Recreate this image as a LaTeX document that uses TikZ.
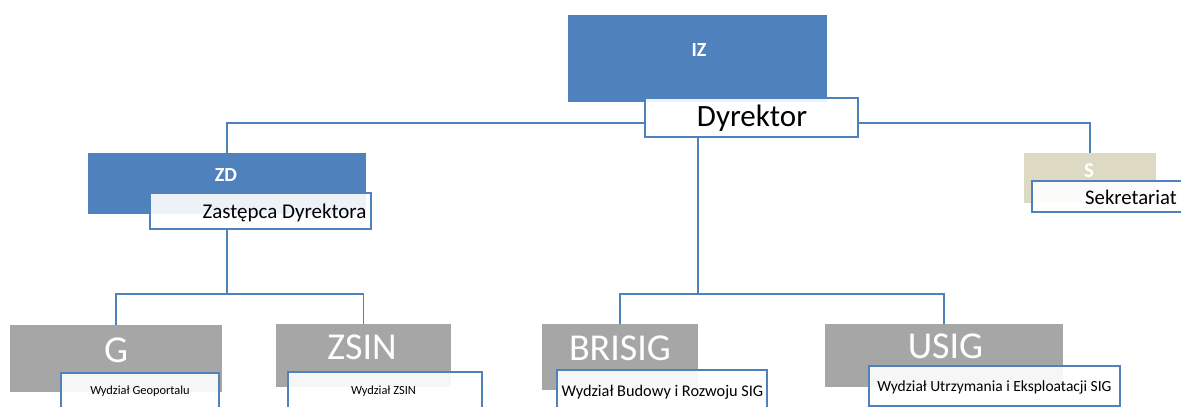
\documentclass[tikz,border=0pt]{standalone}
\usepackage{fontspec}
\setmainfont{Carlito}
\usetikzlibrary{backgrounds}
\definecolor{orgblue}{HTML}{4F81BD}
\definecolor{orggray}{HTML}{A6A6A6}
\definecolor{orgbeige}{HTML}{DDD9C3}

\begin{document}
\begin{tikzpicture}[x=1pt,y=-1pt,
        unit/.style={rectangle,inner sep=0pt,draw=none},
        bluebox/.style={unit,fill=orgblue},
        graybox/.style={unit,fill=orggray},
        beigebox/.style={unit,fill=orgbeige},
        namebox/.style={rectangle,inner sep=0pt,draw=orgblue,line width=1.3pt,
            fill=white,fill opacity=0.9},
        tag/.style={anchor=base,inner sep=0pt,text=white,
            font=\bfseries\fontsize{20}{24}\selectfont},
        bigtag/.style={anchor=base,inner sep=0pt,text=white,
            font=\fontsize{38}{44}\selectfont},
        txt/.style={anchor=base,inner sep=0pt,text=black},
        conn/.style={draw=orgblue,line width=1.5pt}]

\useasboundingbox (0,0) rectangle (1181,407);
\clip (0,0) rectangle (1181,407);

% top
\node[bluebox,minimum width=259pt,minimum height=87pt] (iz) at (697.5,58.5) {};
\node[tag] (izt) at (699,56) {IZ};
\node[namebox,minimum width=213pt,minimum height=39pt] (dyr) at (751.5,117.5) {};
\node[txt,font=\fontsize{31}{36}\selectfont] (dyrt) at (752,126) {Dyrektor};

% deputy and secretariat
\node[bluebox,minimum width=278pt,minimum height=61pt] (zd) at (227,183.5) {};
\node[tag] (zdt) at (226,181) {ZD};
\node[namebox,minimum width=221pt,minimum height=36pt] (zast) at (260.5,211) {};
\node[txt,font=\fontsize{21}{25}\selectfont] (zastt) at (284.5,218.3) {Zastępca Dyrektora};

\node[beigebox,minimum width=132pt,minimum height=50pt] (s) at (1090,178) {};
\node[tag,font=\bfseries\fontsize{21}{25}\selectfont] (st) at (1089,177) {S};
\node[namebox,minimum width=153pt,minimum height=31pt] (sek) at (1108.5,196.5) {};
\node[txt,font=\fontsize{20.7}{24}\selectfont] (sekt) at (1131,204) {Sekretariat};

% departments
\node[graybox,minimum width=212pt,minimum height=67pt] (g) at (116,358.5) {};
\node[bigtag] (gt) at (116,362) {G};
\node[namebox,minimum width=158pt,minimum height=39pt] (wg) at (140,392.5) {};
\node[txt,font=\fontsize{12.4}{15}\selectfont] (wgt) at (140,394) {Wydział Geoportalu};

\node[graybox,minimum width=175pt,minimum height=63pt] (zsin) at (363.5,355.5) {};
\node[bigtag] (zsint) at (362,359) {ZSIN};
\node[namebox,minimum width=194pt,minimum height=40pt] (wz) at (385,392) {};
\node[txt,font=\fontsize{12.4}{15}\selectfont] (wzt) at (383.5,394) {Wydział ZSIN};

\node[graybox,minimum width=156pt,minimum height=66pt] (brisig) at (620,357) {};
\node[bigtag] (brisigt) at (620,360) {BRISIG};
\node[namebox,minimum width=210pt,minimum height=42pt] (wb) at (662,391) {};
\node[txt,font=\fontsize{16.3}{19}\selectfont] (wbt) at (662.5,396) {Wydział Budowy i Rozwoju SIG};

\node[graybox,minimum width=238pt,minimum height=63pt] (usig) at (944,355.5) {};
\node[bigtag] (usigt) at (945.5,358.3) {USIG};
\node[namebox,minimum width=251pt,minimum height=40pt] (wu) at (994.5,386) {};
\node[txt,font=\fontsize{15.5}{18}\selectfont] (wut) at (994.5,391.7) {Wydział Utrzymania i Eksploatacji SIG};

\coordinate (hub) at (698,123);
\coordinate (lowhub) at (698,294);
\coordinate (zdhub) at (227,294);

\begin{pgfonlayer}{background}
\draw[conn] (zd.north) |- (hub -| dyr.west);
\draw[conn] (hub -| dyr.east) -| (s.north);
\draw[conn] (hub |- dyr.south) -- (lowhub);
\draw[conn] (brisig.north) |- (lowhub) -| (usig.north);
\draw[conn] (zast.south -| zd.south) -- (zdhub);
\draw[conn] (g.north) |- (zdhub) -| (zsin.north);
\end{pgfonlayer}
\end{tikzpicture}
\end{document}
